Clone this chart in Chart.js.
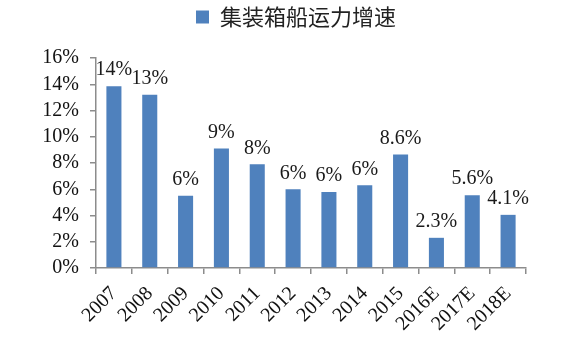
<!DOCTYPE html>
<html>
<head>
<meta charset="utf-8">
<script src="https://cdn.jsdelivr.net/npm/chart.js@4/dist/chart.umd.min.js"></script>
<style>
html,body{margin:0;padding:0;background:#fff;}
#wrap{width:567px;height:347px;position:relative;}
</style>
</head>
<body>
<div id="wrap"><canvas id="c" width="567" height="347"></canvas></div>
<script>
const categories = ["2007","2008","2009","2010","2011","2012","2013","2014","2015","2016E","2017E","2018E"];
const growth = [13.85, 13.2, 5.5, 9.1, 7.9, 6.0, 5.8, 6.3, 8.65, 2.3, 5.55, 4.05];
const valueLabels = ["14%","13%","6%","9%","8%","6%","6%","6%","8.6%","2.3%","5.6%","4.1%"];
const yTicks = [0,2,4,6,8,10,12,14,16];
const seriesName = "集装箱船运力增速";

const serif = "'Liberation Serif','Times New Roman',serif";

const labelPlugin = {
  id: 'valueLabels',
  afterDatasetsDraw(chart) {
    const ctx = chart.ctx;
    const meta = chart.getDatasetMeta(0);
    ctx.save();
    ctx.font = "20px " + serif;
    ctx.fillStyle = "#1a1a1a";
    ctx.textAlign = "center";
    ctx.textBaseline = "bottom";
    meta.data.forEach((bar, i) => {
      ctx.fillText(valueLabels[i], bar.x, bar.y - 6);
    });
    ctx.restore();
  }
};

const legendSpace = {
  id: 'legendSpace',
  beforeInit(chart) {
    const orig = chart.legend.fit;
    chart.legend.fit = function () {
      orig.call(this);
      this.height += 20;
    };
  },
  afterLayout(chart) {
    chart.legend.left += 33;
    chart.legend.right += 33;
  }
};

new Chart(document.getElementById('c'), {
  type: 'bar',
  data: {
    labels: categories,
    datasets: [{
      label: seriesName,
      data: growth,
      backgroundColor: '#4F81BD',
      borderWidth: 0,
      barPercentage: 0.42,
      categoryPercentage: 1.0
    }]
  },
  options: {
    responsive: false,
    animation: false,
    devicePixelRatio: 1,
    layout: { padding: { top: 0, right: 41, bottom: 0, left: 0 } },
    plugins: {
      legend: {
        display: true,
        position: 'top',
        labels: {
          boxWidth: 13,
          boxHeight: 13,
          color: '#222',
          font: { family: "'Noto Sans CJK SC'", size: 22 },
          padding: 6
        }
      },
      tooltip: { enabled: false }
    },
    scales: {
      x: {
        offset: true,
        afterFit(axis) { axis.height = 79; },
        grid: {
          offset: true,
          drawOnChartArea: false,
          drawTicks: true,
          tickLength: 6,
          color: '#8c8c8c',
          lineWidth: 1.5
        },
        border: { color: '#8c8c8c', width: 1.5 },
        ticks: {
          color: '#111',
          font: { family: serif, size: 20 },
          minRotation: 45,
          maxRotation: 45,
          padding: 8,
          autoSkip: false
        }
      },
      y: {
        min: 0,
        max: 16,
        afterBuildTicks(axis) { axis.ticks = yTicks.map(v => ({ value: v })); },
        afterFit(axis) { axis.width = 96; },
        grid: {
          drawOnChartArea: false,
          drawTicks: true,
          tickLength: 6,
          color: '#8c8c8c',
          lineWidth: 1.5
        },
        border: { color: '#8c8c8c', width: 1.5 },
        ticks: {
          color: '#111',
          font: { family: serif, size: 20 },
          padding: 11,
          autoSkip: false,
          callback: (v) => v + '%'
        }
      }
    }
  },
  plugins: [labelPlugin, legendSpace]
});
</script>
</body>
</html>
